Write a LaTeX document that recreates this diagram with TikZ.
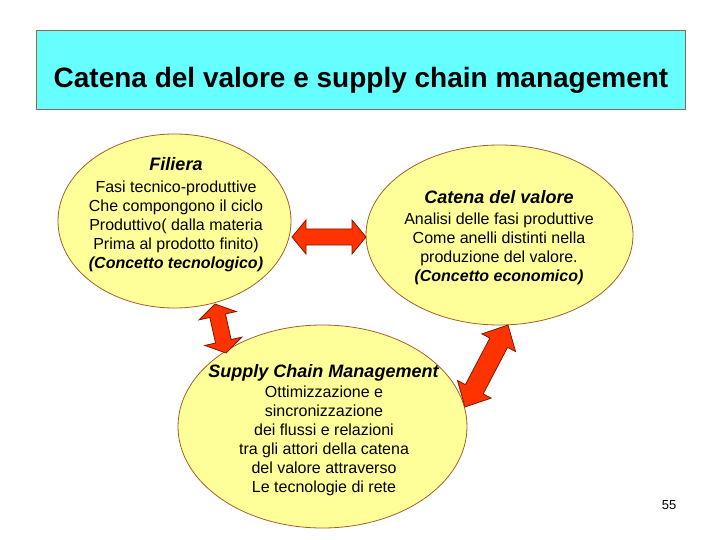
\documentclass[tikz,border=0pt]{standalone}
\usepackage{fontspec}
\setmainfont{Liberation Sans}
\usetikzlibrary{shapes.geometric,calc}
\definecolor{titlefill}{HTML}{66FFFF}
\definecolor{titleline}{HTML}{8A6A4A}
\definecolor{ellfill}{HTML}{FFFF99}
\definecolor{ellline}{HTML}{A0602A}
\definecolor{arrfill}{HTML}{FF3300}
\definecolor{arrline}{HTML}{7A1A00}
\tikzset{
  ell/.style={ellipse, draw=ellline, fill=ellfill, line width=0.8pt, inner sep=0pt},
  head/.style={font=\fontsize{18}{19}\selectfont\bfseries\itshape, inner sep=0pt, anchor=base},
  body/.style={font=\fontsize{16}{19}\selectfont, align=center, inner sep=0pt, anchor=base},
  arr/.style={draw=arrline, fill=arrfill, line width=0.8pt, line join=miter}
}
% double arrow: #1 start, #2 end, #3 head length, #4 head half width, #5 shaft half width
\newcommand\dblarrow[5]{%
  \coordinate (p1) at ($(#1)!#3!(#2)$);
  \coordinate (p2) at ($(#2)!#3!(#1)$);
  \draw[arr] (#1) -- ($(p1)!#4!90:(#2)$) -- ($(p1)!#5!90:(#2)$)
    -- ($(p2)!#5!-90:(#1)$) -- ($(p2)!#4!-90:(#1)$) -- (#2)
    -- ($(p2)!#4!90:(#1)$) -- ($(p2)!#5!90:(#1)$)
    -- ($(p1)!#5!-90:(#2)$) -- ($(p1)!#4!-90:(#2)$) -- cycle;
}
\begin{document}
\begin{tikzpicture}[x=1pt,y=-1pt]
\useasboundingbox (0,0) rectangle (720,540);
\fill[white] (0,0) rectangle (720,540);
% title
\draw[titleline, fill=titlefill, line width=1pt] (36,31) rectangle (685,110);
\node[font=\fontsize{28}{30}\selectfont\bfseries, anchor=base, inner sep=0pt] (title) at (361,88) {Catena del valore e supply chain management};
% ellipses
\node[ell, minimum width=233pt, minimum height=174pt] (fil) at (174.5,221) {};
\node[ell, minimum width=267pt, minimum height=180pt] (cat) at (499.5,235) {};
\node[ell, minimum width=289pt, minimum height=203pt] (scm) at (322.5,426.5) {};
% texts (body anchors are the baseline of the last line)
\node[head] (filh) at (176,171) {Filiera};
\node[body] (filb) at (176,268) {Fasi tecnico-produttive\\Che compongono il ciclo\\Produttivo( dalla materia\\Prima al prodotto finito)\\\textbf{\textit{(Concetto tecnologico)}}};
\node[head] (cath) at (499,204) {Catena del valore};
\node[body] (catb) at (499,281) {Analisi delle fasi produttive\\Come anelli distinti nella\\produzione del valore.\\\textbf{\textit{(Concetto economico)}}};
\node[head] (scmh) at (323.5,377) {Supply Chain Management};
\node[body] (scmb) at (324,492) {Ottimizzazione e\\sincronizzazione\\dei flussi e relazioni\\tra gli attori della catena\\del valore attraverso\\Le tecnologie di rete};
\node[font=\fontsize{13}{14}\selectfont, anchor=base, inner sep=0pt] (pg) at (669,509) {55};
% arrow endpoints
\coordinate (a1) at (292,237);
\coordinate (b1) at (366,237);
\coordinate (a2) at (215,304);
\coordinate (b2) at (226,353);
\coordinate (a3) at (508,325);
\coordinate (b3) at (465,407);
\dblarrow{a1}{b1}{14pt}{17pt}{8pt}
\dblarrow{a2}{b2}{12pt}{19pt}{8pt}
\dblarrow{a3}{b3}{20pt}{19pt}{10pt}
\end{tikzpicture}
\end{document}
